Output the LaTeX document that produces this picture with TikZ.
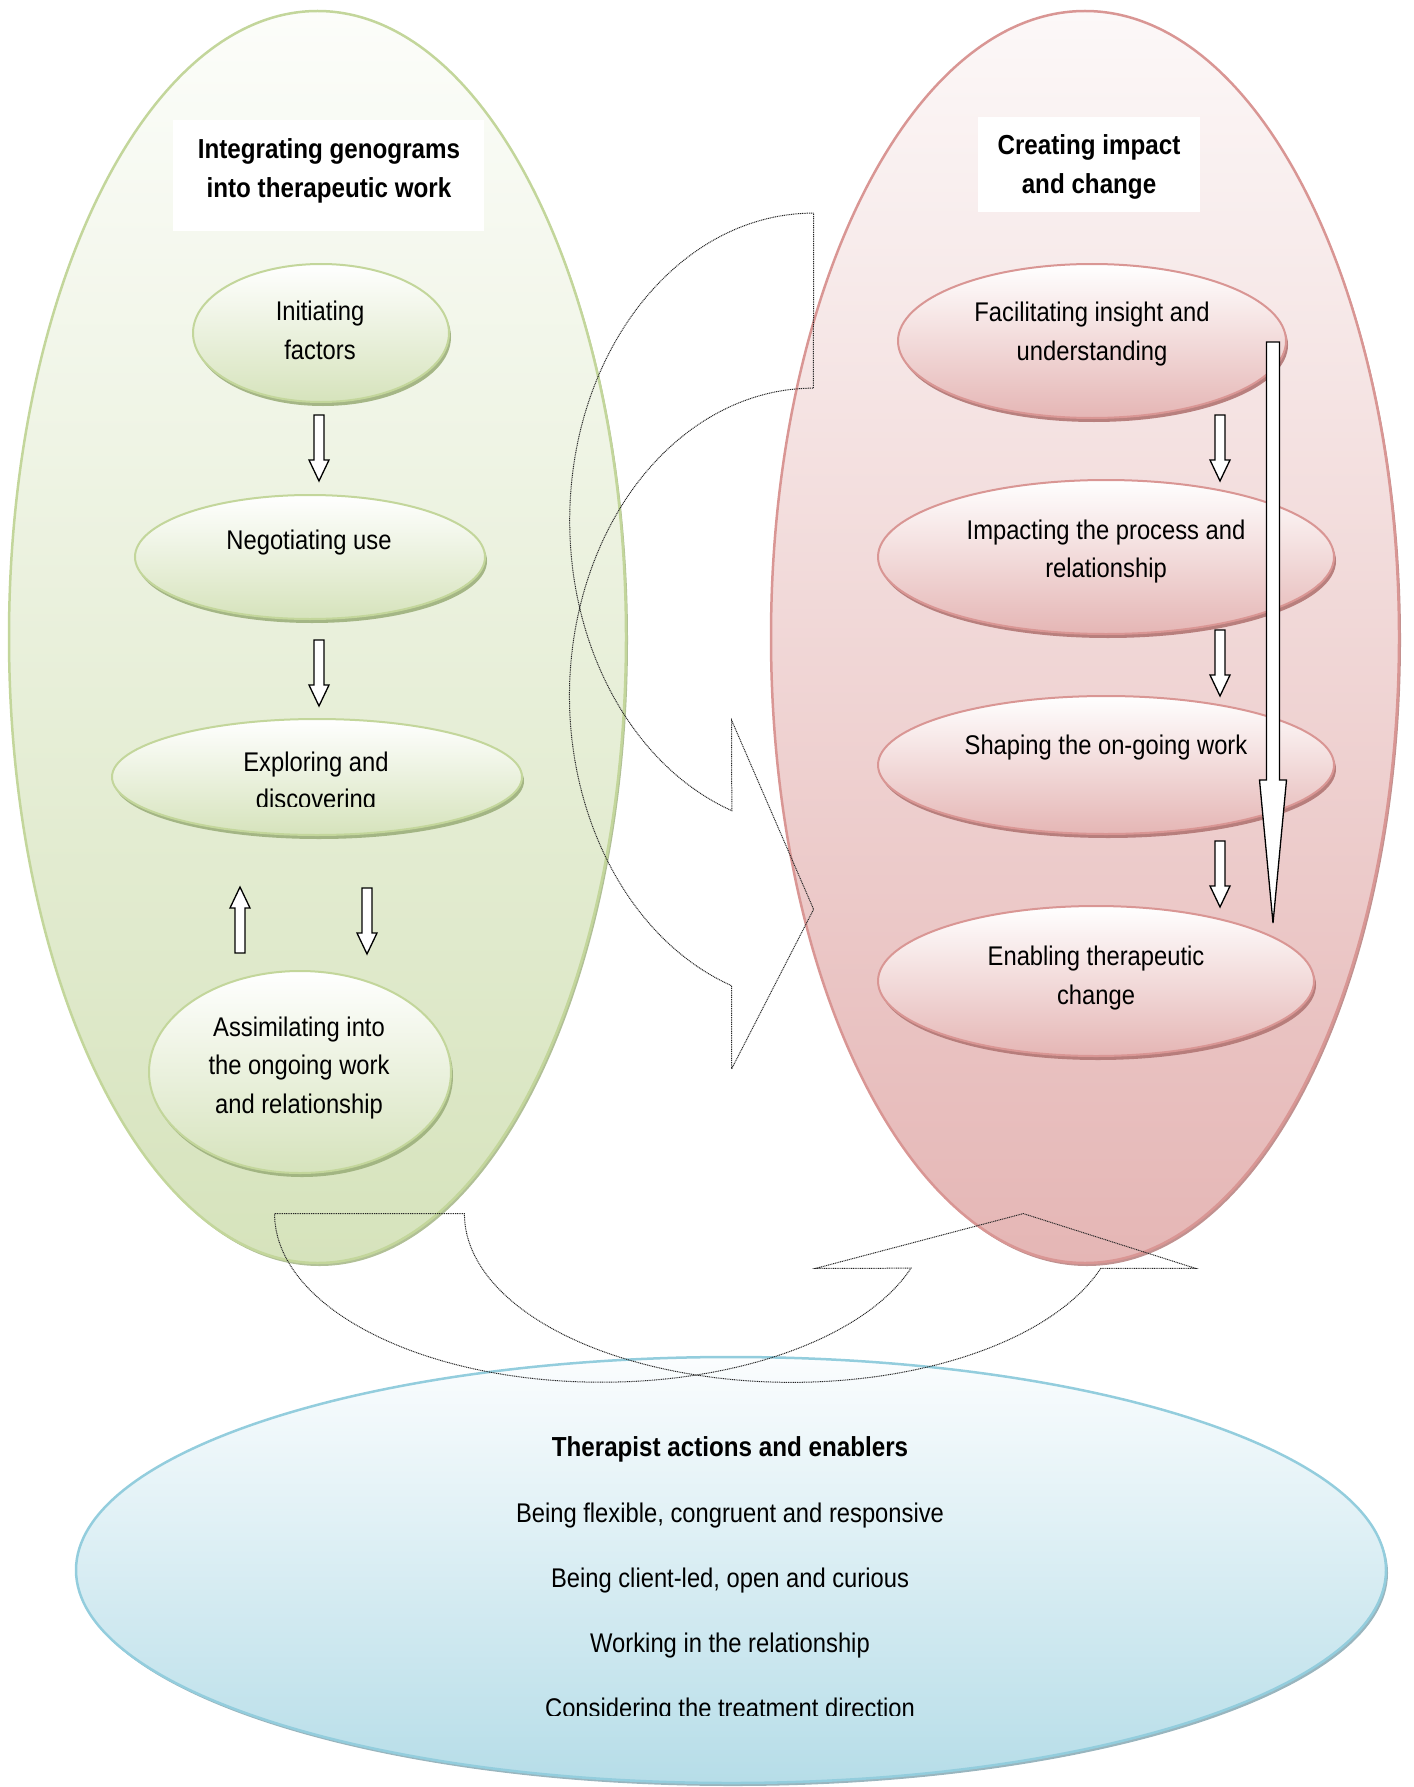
\documentclass[tikz,border=0pt]{standalone}
\usepackage{fontspec}
\setmainfont[FakeStretch=0.88]{Liberation Sans}
\usetikzlibrary{shapes.geometric,shadows}
\definecolor{gTop}{HTML}{FCFDFA}
\definecolor{gBot}{HTML}{D6E3BC}
\definecolor{gLine}{HTML}{C3D69B}
\definecolor{gShad}{HTML}{9DB07C}
\definecolor{rTop}{HTML}{FCF8F8}
\definecolor{rBot}{HTML}{E5B6B5}
\definecolor{rLine}{HTML}{D99694}
\definecolor{rShad}{HTML}{B27674}
\definecolor{bTop}{HTML}{FBFDFE}
\definecolor{bBot}{HTML}{B6DDE8}
\definecolor{bLine}{HTML}{93CDDD}
\definecolor{bShad}{HTML}{7FA3AE}
\begin{document}
\begin{tikzpicture}[x=1pt,y=1pt,
  txt/.style={anchor=base, inner sep=0pt, font=\fontsize{27}{38}\selectfont},
  ttl/.style={anchor=base, inner sep=0pt, font=\fontsize{27.5}{38}\selectfont\bfseries},
  ell/.style={ellipse, inner sep=0pt},
  bigG/.style={ell, draw=gLine, line width=2.5pt, top color=gTop, bottom color=gBot,
    drop shadow={shadow xshift=2pt, shadow yshift=-3pt, fill=gShad, opacity=0.8}},
  bigR/.style={ell, draw=rLine, line width=2.5pt, top color=rTop, bottom color=rBot,
    drop shadow={shadow xshift=2pt, shadow yshift=-3pt, fill=rShad, opacity=0.8}},
  bigB/.style={ell, draw=bLine, line width=2.5pt, top color=bTop, bottom color=bBot,
    drop shadow={shadow xshift=2pt, shadow yshift=-3pt, fill=bShad, opacity=0.8}},
  smallG/.style={ell, draw=gLine, line width=2pt, top color=white, bottom color=gBot,
    drop shadow={shadow xshift=2pt, shadow yshift=-4pt, fill=gShad, opacity=0.9}},
  smallR/.style={ell, draw=rLine, line width=2pt, top color=white, bottom color=rBot,
    drop shadow={shadow xshift=2pt, shadow yshift=-4pt, fill=rShad, opacity=0.9}},
  dotarrow/.style={draw=black!85, line width=1pt, dash pattern=on 1pt off 0.8pt},
  dnarrow/.pic={\draw[line width=1.3pt, fill=white] (-5,0) -- (5,0) -- (5,-45) -- (10,-45) -- (0,-66) -- (-10,-45) -- (-5,-45) -- cycle;}
]
\useasboundingbox (0,0) rectangle (1413,-1787);

% big ellipses
\node[bigG, minimum width=617pt, minimum height=1252pt] (G) at (317.5,-637) {};
\node[bigR, minimum width=628pt, minimum height=1252pt] (R) at (1085,-637) {};
\node[bigB, minimum width=1310pt, minimum height=426pt] (B) at (731,-1570) {};

% title boxes
\fill[white] (173,-120) rectangle (484,-231);
\fill[white] (978,-117) rectangle (1200,-212);
\node[ttl] (tl1) at (329,-159) {Integrating genograms};
\node[ttl] (tl2) at (329,-198) {into therapeutic work};
\node[ttl] (tr1) at (1089,-155) {Creating impact};
\node[ttl] (tr2) at (1089,-194) {and change};

% small ellipses left
\node[smallG, minimum width=256pt, minimum height=138pt] (g1) at (321,-333) {};
\node[smallG, minimum width=350pt, minimum height=124pt] (g2) at (310,-557) {};
\node[smallG, minimum width=410pt, minimum height=116pt] (g3) at (317,-777) {};
\node[smallG, minimum width=302pt, minimum height=202pt] (g4) at (300,-1072) {};
% small ellipses right
\node[smallR, minimum width=388pt, minimum height=154pt] (r1) at (1092,-341) {};
\node[smallR, minimum width=456pt, minimum height=154pt] (r2) at (1106,-557) {};
\node[smallR, minimum width=456pt, minimum height=138pt] (r3) at (1106,-765) {};
\node[smallR, minimum width=436pt, minimum height=150pt] (r4) at (1096,-981) {};

% texts left
\node[txt] (a1) at (320,-320) {Initiating};
\node[txt] (a2) at (320,-359) {factors};
\node[txt] (b1) at (309,-549) {Negotiating use};
\node[txt] (c1) at (316,-771) {Exploring and};
\begin{scope}
\clip (100,-700) rectangle (540,-806);
\node[txt] (c2) at (316,-808) {discovering};
\end{scope}
\node[txt] (d1) at (299,-1036) {Assimilating into};
\node[txt] (d2) at (299,-1074) {the ongoing work};
\node[txt] (d3) at (299,-1113) {and relationship};

% texts right
\node[txt] (e1) at (1092,-321) {Facilitating insight and};
\node[txt] (e2) at (1092,-360) {understanding};
\node[txt] (f1) at (1106,-539) {Impacting the process and};
\node[txt] (f2) at (1106,-577) {relationship};
\node[txt] (h1) at (1106,-754) {Shaping the on-going work};
\node[txt] (k1) at (1096,-965) {Enabling therapeutic};
\node[txt] (k2) at (1096,-1004) {change};

% bottom texts
\node[ttl] (m0) at (730,-1456) {Therapist actions and enablers};
\node[txt] (m1) at (730,-1522) {Being flexible, congruent and responsive};
\node[txt] (m2) at (730,-1587) {Being client-led, open and curious};
\node[txt] (m3) at (730,-1652) {Working in the relationship};
\begin{scope}
\clip (300,-1650) rectangle (1150,-1715);
\node[txt] (m4) at (730,-1717) {Considering the treatment direction};
\end{scope}

% block arrows
\pic at (319,-415) {dnarrow};
\pic at (319,-640) {dnarrow};
\pic[rotate=180] at (240,-953) {dnarrow};
\pic at (367,-888) {dnarrow};
\pic at (1220,-415) {dnarrow};
\pic at (1220,-630) {dnarrow};
\pic at (1220,-841) {dnarrow};
\draw[line width=1.3pt, fill=white] (1266.5,-342) -- (1279.5,-342) -- (1279.5,-780) -- (1286.5,-780) -- (1273,-923) -- (1259.5,-780) -- (1266.5,-780) -- cycle;

% dotted circular arrows
\draw[dotarrow] (813.6,-213.1) arc[start angle=90, end angle=250.4, x radius=243.9, y radius=307.7]
  -- (731.6,-720.2) -- (813.6,-909.3) -- (731.6,-1068.9) -- (731.6,-985.7)
  arc[start angle=250.4, end angle=90, x radius=243.9, y radius=307.7] -- cycle;
\draw[dotarrow] (274.6,-1213.6) arc[start angle=180, end angle=341.1, x radius=327, y radius=168.6]
  -- (815.9,-1268.3) -- (1023.3,-1213.6) -- (1195.3,-1268.3) -- (1100.8,-1268.3)
  arc[start angle=341.1, end angle=180, x radius=327, y radius=168.6] -- cycle;
\end{tikzpicture}
\end{document}
